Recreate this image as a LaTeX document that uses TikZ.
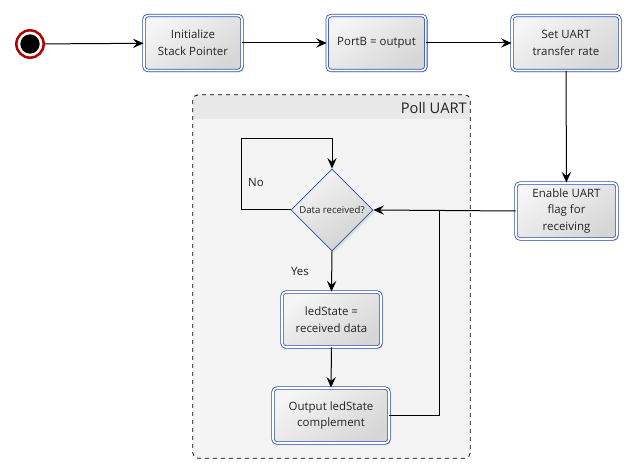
\documentclass[tikz,border=0pt]{standalone}
\usepackage{fontspec}
\setmainfont{Open Sans}
\usetikzlibrary{arrows.meta,shapes.geometric,shadows,calc}
\definecolor{boxblue}{HTML}{2A4FB0}
\definecolor{txt}{HTML}{222222}
\definecolor{grpbody}{HTML}{F4F4F4}
\definecolor{grphead}{HTML}{E8E8E8}
\tikzset{
  actbox/.style={rectangle, rounded corners=3pt, draw=boxblue, double=white,
    double distance=1.3pt, line width=0.6pt,
    top color=white!96!black, bottom color=black!16, shading angle=35,
    drop shadow={opacity=0.22, shadow xshift=1.5pt, shadow yshift=-1.5pt},
    align=center, text=txt, font=\fontsize{8.6}{12.5}\selectfont,
    inner sep=0pt},
  decbox/.style={diamond, draw=boxblue, line width=0.6pt,
    top color=white!96!black, bottom color=black!18, shading angle=35,
    drop shadow={opacity=0.18, shadow xshift=1.5pt, shadow yshift=-1.5pt},
    minimum width=61.5pt, minimum height=61.5pt, inner sep=0pt,
    text=txt, font=\fontsize{7.2}{8}\selectfont},
  arr/.style={-{Stealth[length=8pt,width=7pt,inset=3pt]}, line width=0.75pt, black},
  ln/.style={line width=0.75pt, black},
  lbl/.style={text=txt, font=\fontsize{8.6}{10}\selectfont, inner sep=0pt},
}
\begin{document}
\begin{tikzpicture}[x=0.75pt,y=-0.75pt]
\useasboundingbox (0,0) rectangle (636,474);
% group
\node[rectangle, rounded corners=4pt, fill=grpbody, minimum width=207.75pt,
  minimum height=272.25pt, inner sep=0pt] (poll) at (331.5,276.5) {};
\begin{scope}
  \clip (190,90) rectangle (475,119);
  \fill[grphead, rounded corners=4pt] (poll.north west) rectangle (poll.south east);
\end{scope}
\draw[dashed, line width=0.6pt, rounded corners=4pt] (poll.north west) rectangle (poll.south east);
\node[text=txt, font=\fontsize{11}{12}\selectfont, anchor=east, inner sep=0pt] (polltitle) at (467,108) {Poll UART};
% start
\node[circle, fill=white, draw=red!70!black, line width=1.9pt, minimum size=20.5pt,
  inner sep=0pt, drop shadow={opacity=0.2, shadow xshift=1pt, shadow yshift=-1pt}] (start) at (30,44) {};
\node[circle, fill=black, minimum size=14.5pt, inner sep=0pt] (startdot) at (30,44) {};
% actions
\node[actbox, minimum width=73.5pt, minimum height=41.25pt] (init) at (193,43) {Initialize\\Stack Pointer};
\node[actbox, minimum width=74pt, minimum height=41.25pt] (portb) at (376.5,43) {PortB = output};
\node[actbox, minimum width=81pt, minimum height=41.25pt] (setuart) at (566,43) {Set UART\\transfer rate};
\node[actbox, minimum width=75.75pt, minimum height=42pt] (enable) at (566.5,211) {Enable UART\\flag for\\receiving};
\node[decbox] (dec) at (332,210) {Data received?};
\node[actbox, minimum width=74.25pt, minimum height=41.25pt] (led) at (331.5,319.5) {ledState =\\received data};
\node[actbox, minimum width=87pt, minimum height=41.25pt] (out) at (331,415.5) {Output ledState\\complement};
% labels
\node[lbl] (nolbl) at (256,182) {No};
\node[lbl] (yeslbl) at (300,271) {Yes};
% coordinates
\coordinate (loopc) at (241,139);
\coordinate (ret) at (439,210);
% connectors
\draw[arr] (start) -- (init);
\draw[arr] (init) -- (portb);
\draw[arr] (portb) -- (setuart);
\draw[arr] (setuart) -- (enable);
\draw[arr] (enable.west) -- (dec.east);
\draw[arr] (dec.west) -| (loopc) -| (dec.north);
\draw[arr] (dec.south) -- (led.north);
\draw[arr] (led.south) -- (out.north);
\draw[ln] (out.east) -| (ret);
\end{tikzpicture}
\end{document}
